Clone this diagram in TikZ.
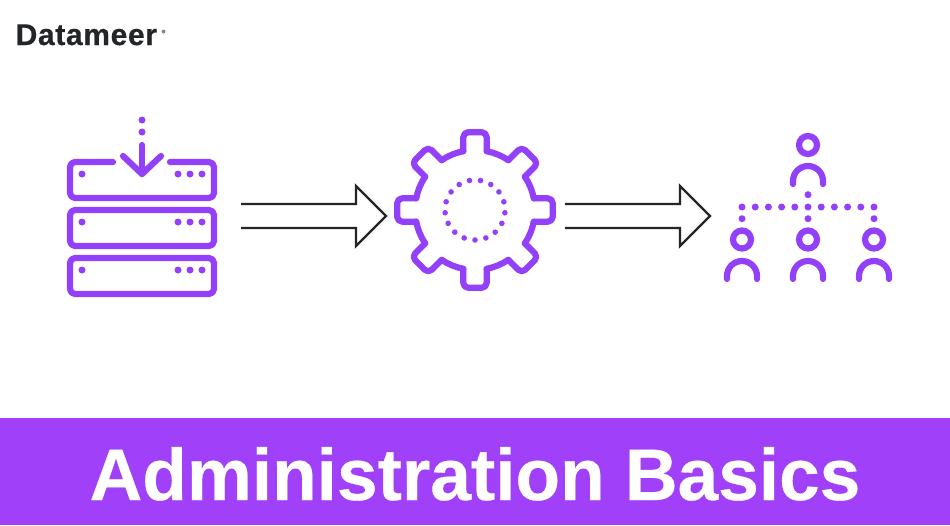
\documentclass[tikz,border=0pt]{standalone}
\usepackage{fontspec}
\setmainfont{Liberation Sans}
\definecolor{brand}{HTML}{9340FA}
\definecolor{band}{HTML}{A041F9}
\definecolor{ink}{HTML}{232629}
\tikzset{
  icon/.style={draw=brand,line width=6.2pt,line cap=round,line join=round},
  dotmark/.style={fill=brand,draw=none},
  bigarrow/.style={draw=ink,line width=2.4pt,line join=miter},
}
\begin{document}
\begin{tikzpicture}[x=1pt,y=-1pt]
\useasboundingbox (0,0) rectangle (950,525);
\fill[white] (0,0) rectangle (950,525);
% banner
\fill[band] (0,418) rectangle (950,525);
\node[text=white,font=\bfseries\fontsize{73}{80}\selectfont,anchor=base,inner sep=0pt] (title) at (475,500) {\addfontfeature{FakeBold=0.4}Administration Basics};
% logo
\node[text=ink,font=\bfseries\fontsize{30}{32}\selectfont,anchor=base west,inner sep=0pt] (logo) at (15.5,45) {\addfontfeature{LetterSpace=2.2,FakeBold=0.6}Datameer};
\fill[ink!55] (163.5,31.5) circle (2);
% server icon
\draw[icon,rounded corners=5] (113,162) -- (70,162) -- (70,198) -- (214,198) -- (214,162) -- (170,162);
\draw[icon,rounded corners=5] (70,210) rectangle (214,246);
\draw[icon,rounded corners=5] (70,258) rectangle (214,294);
\foreach \y in {174,222,270}{
  \fill[dotmark] (82,\y) circle (3.5);
  \foreach \x in {178,190,202}{\fill[dotmark] (\x,\y) circle (3.5);}
}
\draw[icon] (142,145) -- (142,174);
\draw[icon] (123,156) -- (142,174) -- (161,156);
\fill[dotmark] (142,120) circle (3.5);
\fill[dotmark] (142,132) circle (3.5);
% arrows
\foreach \dx in {0,324}{
  \draw[bigarrow,shift={(\dx,0)}] (241,204) -- (356,204) -- (356,186) -- (386,216) -- (356,246) -- (356,228) -- (241,228);
}
% gear
\begin{scope}[shift={(475,210)}]
\foreach \a in {0,45,...,315}{
  \draw[icon,rotate=\a,rounded corners=5] (58.8,-11.7) -- (77.8,-11.7) -- (77.8,11.7) -- (58.8,11.7);
  \draw[icon,rotate=\a] (58.8,11.7) arc[start angle=11.2,end angle=33.8,radius=60];
}
\foreach \i in {0,...,16}{
  \fill[dotmark] ({90+\i*360/17}:30) circle (2.8);
}
\end{scope}
% people
\foreach \x/\yh/\ya in {808/145/181,742/239.5/276,808/239.5/276,874/239.5/276}{
  \draw[icon] (\x,\yh) circle (9);
  \draw[icon] (\x-15,\ya+3) -- (\x-15,\ya) arc[start angle=180,end angle=360,radius=15] -- (\x+15,\ya+3);
}
\fill[dotmark] (808,194.7) circle (3.5);
\foreach \i in {0,...,10}{\fill[dotmark] (742+\i*13.2,207) circle (3.5);}
\foreach \x in {742,808,874}{\fill[dotmark] (\x,218.7) circle (3.5);}
\end{tikzpicture}
\end{document}
